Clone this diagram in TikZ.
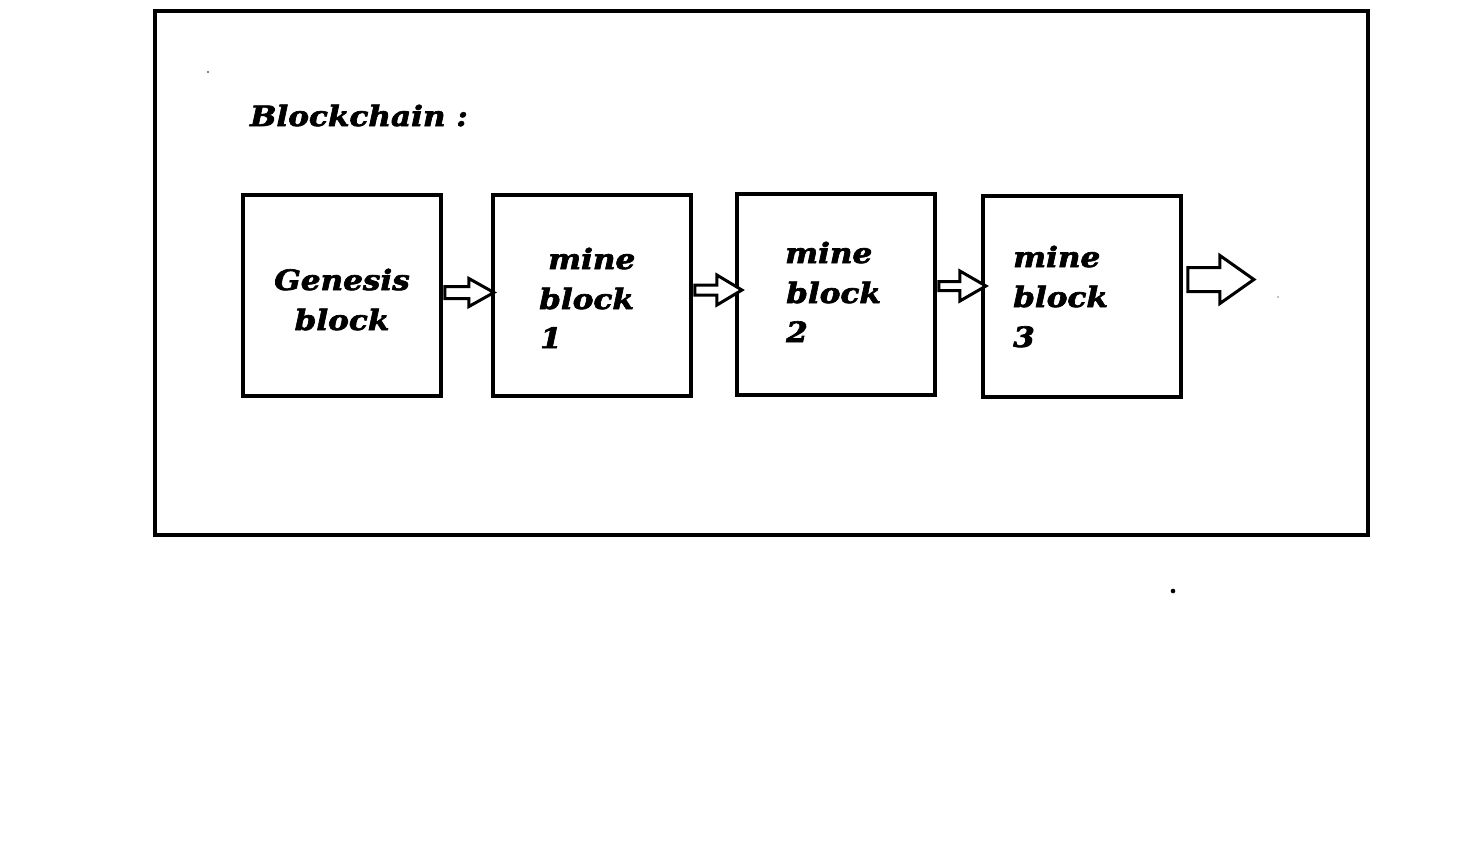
\documentclass[tikz,border=0pt]{standalone}
\usepackage{fontspec}
\setmainfont{DejaVu Serif}[BoldItalicFeatures={FakeStretch=1.11,FakeBold=2.4}]
\usetikzlibrary{calc}
\newcommand\hollowarrow[7]{%
  \draw[harrow,shift={(#1)}] (#2,#3-#4) -- (#5,#3-#4) -- (#5,#3-#6) -- (#7,#3) -- (#5,#3+#6) -- (#5,#3+#4) -- (#2,#3+#4) -- cycle;}
\begin{document}
\begin{tikzpicture}[x=1pt,y=-1pt,
  frame/.style={draw=black,line width=4pt},
  blockbox/.style={draw=black,line width=3.8pt,minimum width=198pt,minimum height=201pt,inner sep=0pt},
  harrow/.style={draw=black,line width=3pt,line join=miter,fill=white},
  lbl/.style={anchor=base west,inner sep=0pt,font=\fontsize{28}{32}\selectfont\bfseries\itshape},
  lblc/.style={anchor=base,inner sep=0pt,font=\fontsize{28}{32}\selectfont\bfseries\itshape}]
\useasboundingbox (0,0) rectangle (1465,844);
\fill[white] (0,0) rectangle (1465,844);
\draw[frame] (155,11) rectangle (1368,535);
\node[lbl] (title) at (250,126) {Blockchain :};
\node[blockbox] (b1) at (342,295.5) {};
\node[blockbox] (b2) at (592,295.5) {};
\node[blockbox] (b3) at (836,294.5) {};
\node[blockbox] (b4) at (1082,296.5) {};
% labels
\node[lblc] (g1) at (342,290) {Genesis};
\node[lblc] (g2) at (342,330) {block};
\node[lbl] (m1a) at (548,269) {mine};
\node[lbl] (m1b) at (539,309) {block};
\node[lbl] (m1c) at (540,348) {1};
\node[lbl] (m2a) at (785,263) {mine};
\node[lbl] (m2b) at (786,303) {block};
\node[lbl] (m2c) at (786,342) {2};
\node[lbl] (m3a) at (1013,267) {mine};
\node[lbl] (m3b) at (1013,307) {block};
\node[lbl] (m3c) at (1013,347) {3};
% arrows
\hollowarrow{b1.east}{2}{-3}{6}{26}{14}{51}
\hollowarrow{b2.east}{2}{-5.5}{5}{24}{15}{49}
\hollowarrow{b3.east}{2}{-8.5}{4.5}{23}{15}{49}
\hollowarrow{b4.east}{5}{-17}{12}{37}{24}{71}
% dots
\fill (208,72) circle (0.8);
\fill (1173,591) circle (2.3);
\fill (1278,297) circle (0.7);
\end{tikzpicture}
\end{document}
